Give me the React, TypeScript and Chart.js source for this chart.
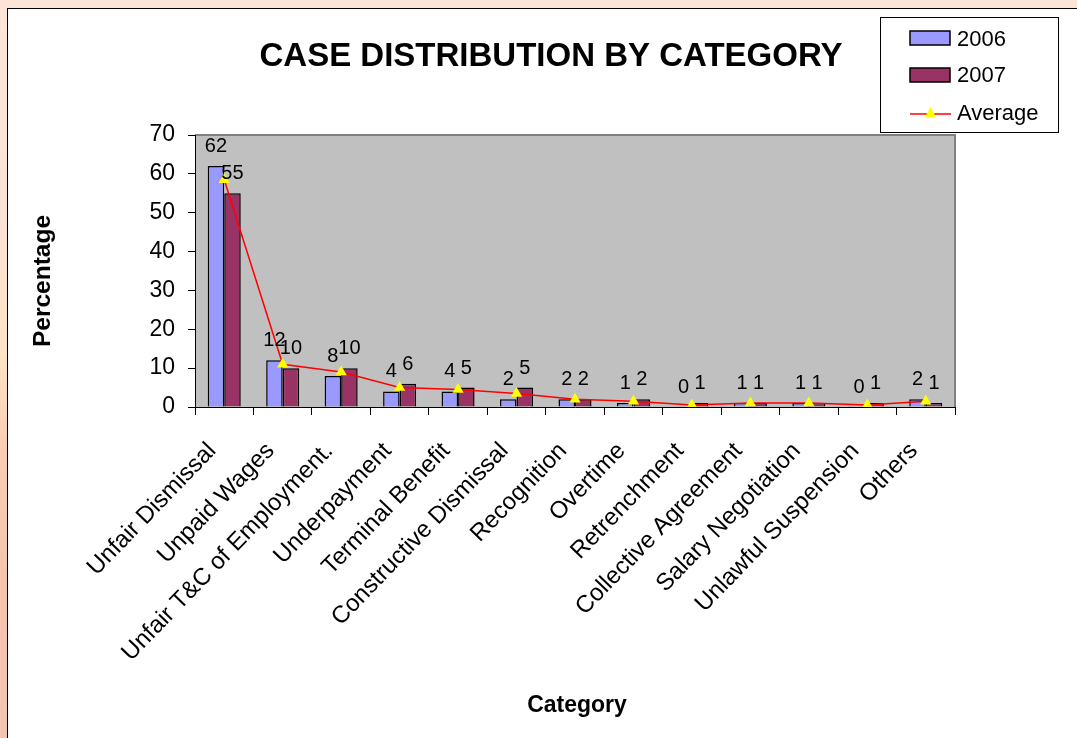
import React, { useEffect, useRef } from "react";
import { Chart, registerables } from "chart.js";

Chart.register(...registerables);

// Case categories along the x axis
const categories = [
  "Unfair Dismissal",
  "Unpaid Wages",
  "Unfair T&C of Employment.",
  "Underpayment",
  "Terminal Benefit",
  "Constructive Dismissal",
  "Recognition",
  "Overtime",
  "Retrenchment",
  "Collective Agreement",
  "Salary Negotiation",
  "Unlawful Suspension",
  "Others",
];

// Percentage of cases per category
const values2006 = [62, 12, 8, 4, 4, 2, 2, 1, 0, 1, 1, 0, 2];
const values2007 = [55, 10, 10, 6, 5, 5, 2, 2, 1, 1, 1, 1, 1];
const averageValues = [58.5, 11, 9, 5, 4.5, 3.5, 2, 1.5, 0.5, 1, 1, 0.5, 1.5];

const yMin = 0;
const yMax = 70;
const yStep = 10;

const chartTitle = "CASE DISTRIBUTION BY CATEGORY";
const yAxisTitle = "Percentage";
const xAxisTitle = "Category";
const legendLabels = ["2006", "2007", "Average"];

const FONT = '"Liberation Sans", Arial, Helvetica, sans-serif';
const COLOR_2006 = "#9999FF";
const COLOR_2007 = "#993366";
const COLOR_AVG = "#FF0000";
const COLOR_MARKER = "#FFFF00";

const W = 1077;
const H = 738;

// Gray plot area with a thin frame on top and right
const plotBackground = {
  id: "plotBackground",
  beforeDraw(chart: any) {
    const { ctx, chartArea: a } = chart;
    ctx.save();
    ctx.fillStyle = "#C0C0C0";
    ctx.fillRect(a.left, a.top, a.right - a.left, a.bottom - a.top);
    ctx.strokeStyle = "#808080";
    ctx.lineWidth = 2;
    ctx.beginPath();
    ctx.moveTo(a.left, a.top);
    ctx.lineTo(a.right, a.top);
    ctx.lineTo(a.right, a.bottom);
    ctx.stroke();
    ctx.restore();
  },
};

// Value labels above each bar
const barValueLabels = {
  id: "barValueLabels",
  afterDatasetsDraw(chart: any) {
    const { ctx } = chart;
    ctx.save();
    ctx.fillStyle = "#000";
    ctx.font = `20px ${FONT}`;
    ctx.textAlign = "center";
    ctx.textBaseline = "alphabetic";
    chart.data.datasets.forEach((ds: any, di: number) => {
      if (ds.type === "line") return;
      const meta = chart.getDatasetMeta(di);
      meta.data.forEach((el: any, i: number) => {
        ctx.fillText(String(ds.data[i]), el.x, el.y - 14);
      });
    });
    ctx.restore();
  },
};

// Title, axis titles and the boxed legend
const annotations = {
  id: "annotations",
  afterDraw(chart: any) {
    const { ctx } = chart;
    ctx.save();
    ctx.fillStyle = "#000";

    ctx.font = `bold 33px ${FONT}`;
    ctx.textAlign = "center";
    ctx.textBaseline = "alphabetic";
    ctx.fillText(chartTitle, 551, 66);

    ctx.font = `bold 23px ${FONT}`;
    ctx.fillText(xAxisTitle, 577, 712);

    ctx.save();
    ctx.font = `bold 24.5px ${FONT}`;
    ctx.translate(50, 281);
    ctx.rotate(-Math.PI / 2);
    ctx.fillText(yAxisTitle, 0, 0);
    ctx.restore();

    // legend box
    ctx.fillStyle = "#fff";
    ctx.fillRect(880.5, 17.5, 178, 115);
    ctx.strokeStyle = "#000";
    ctx.lineWidth = 1;
    ctx.strokeRect(880.5, 17.5, 178, 115);

    ctx.lineWidth = 1.5;
    ctx.fillStyle = COLOR_2006;
    ctx.fillRect(910, 31, 40, 14);
    ctx.strokeRect(910, 31, 40, 14);
    ctx.fillStyle = COLOR_2007;
    ctx.fillRect(910, 68, 40, 14);
    ctx.strokeRect(910, 68, 40, 14);

    ctx.strokeStyle = COLOR_AVG;
    ctx.lineWidth = 1.5;
    ctx.beginPath();
    ctx.moveTo(910, 114);
    ctx.lineTo(951, 114);
    ctx.stroke();
    ctx.fillStyle = COLOR_MARKER;
    ctx.beginPath();
    ctx.moveTo(930.5, 107);
    ctx.lineTo(936, 117);
    ctx.lineTo(925, 117);
    ctx.closePath();
    ctx.fill();

    ctx.fillStyle = "#000";
    ctx.font = `22px ${FONT}`;
    ctx.textAlign = "left";
    ctx.textBaseline = "middle";
    ctx.fillText(legendLabels[0], 957, 40);
    ctx.fillText(legendLabels[1], 957, 76);
    ctx.fillText(legendLabels[2], 957, 114);

    ctx.restore();
  },
};

function CaseChart() {
  const ref = useRef<HTMLCanvasElement | null>(null);

  useEffect(() => {
    if (!ref.current) return;
    const chart = new Chart(ref.current, {
      type: "bar",
      data: {
        labels: categories,
        datasets: [
          {
            type: "line",
            label: legendLabels[2],
            data: averageValues,
            borderColor: COLOR_AVG,
            borderWidth: 1.5,
            pointStyle: "triangle",
            pointRadius: 6.5,
            pointBackgroundColor: COLOR_MARKER,
            pointBorderColor: COLOR_MARKER,
            pointBorderWidth: 0,
            tension: 0,
            order: 0,
          } as any,
          {
            type: "bar",
            label: legendLabels[0],
            data: values2006,
            backgroundColor: COLOR_2006,
            borderColor: "#000",
            borderWidth: 1.5,
            categoryPercentage: 0.565,
            barPercentage: 1,
            order: 1,
          },
          {
            type: "bar",
            label: legendLabels[1],
            data: values2007,
            backgroundColor: COLOR_2007,
            borderColor: "#000",
            borderWidth: 1.5,
            categoryPercentage: 0.565,
            barPercentage: 1,
            order: 2,
          },
        ],
      },
      options: {
        responsive: false,
        animation: false,
        devicePixelRatio: 1,
        layout: { padding: { left: 0, top: 135, right: 122, bottom: 0 } },
        plugins: {
          legend: { display: false },
          title: { display: false },
          tooltip: { enabled: false },
        },
        scales: {
          x: {
            offset: true,
            grid: {
              offset: true,
              drawOnChartArea: false,
              drawTicks: true,
              tickLength: 8,
              color: "#000",
            },
            border: { display: true, color: "#000", width: 1 },
            ticks: {
              autoSkip: false,
              minRotation: 46,
              maxRotation: 46,
              padding: 22,
              labelOffset: -12,
              color: "#000",
              font: { family: FONT, size: 24 },
            },
            afterFit(scale: any) {
              scale.height = H - 407;
            },
          },
          y: {
            min: yMin,
            max: yMax,
            grid: {
              drawOnChartArea: false,
              drawTicks: true,
              tickLength: 7,
              color: "#000",
            },
            border: { display: true, color: "#000", width: 1 },
            ticks: {
              stepSize: yStep,
              padding: 13,
              color: "#000",
              font: { family: FONT, size: 23 },
            },
            afterFit(scale: any) {
              scale.width = 195;
            },
          },
        },
      },
      plugins: [plotBackground, barValueLabels, annotations],
    });
    return () => chart.destroy();
  }, []);

  return (
    <canvas
      ref={ref}
      width={W}
      height={H}
      style={{ position: "absolute", left: 0, top: 0, width: W, height: H }}
    />
  );
}

export default function App() {
  return (
    <div
      style={{
        position: "fixed",
        left: 0,
        top: 0,
        width: W,
        height: H,
        overflow: "hidden",
        background: "#FCE4D6",
      }}
    >
      <div
        style={{
          position: "absolute",
          left: 0,
          top: 0,
          width: 7,
          height: H,
          background:
            "linear-gradient(to bottom, #FCE4D8 0%, #FBE2D6 30%, #FDE4C6 48%, #F9CDB6 60%, #F6C3AD 80%, #F4C4B3 100%)",
        }}
      />
      <div
        style={{
          position: "absolute",
          left: 7,
          top: 8,
          width: 1120,
          height: 800,
          background: "#fff",
          border: "1px solid #000",
          boxSizing: "border-box",
        }}
      />
      <CaseChart />
    </div>
  );
}
